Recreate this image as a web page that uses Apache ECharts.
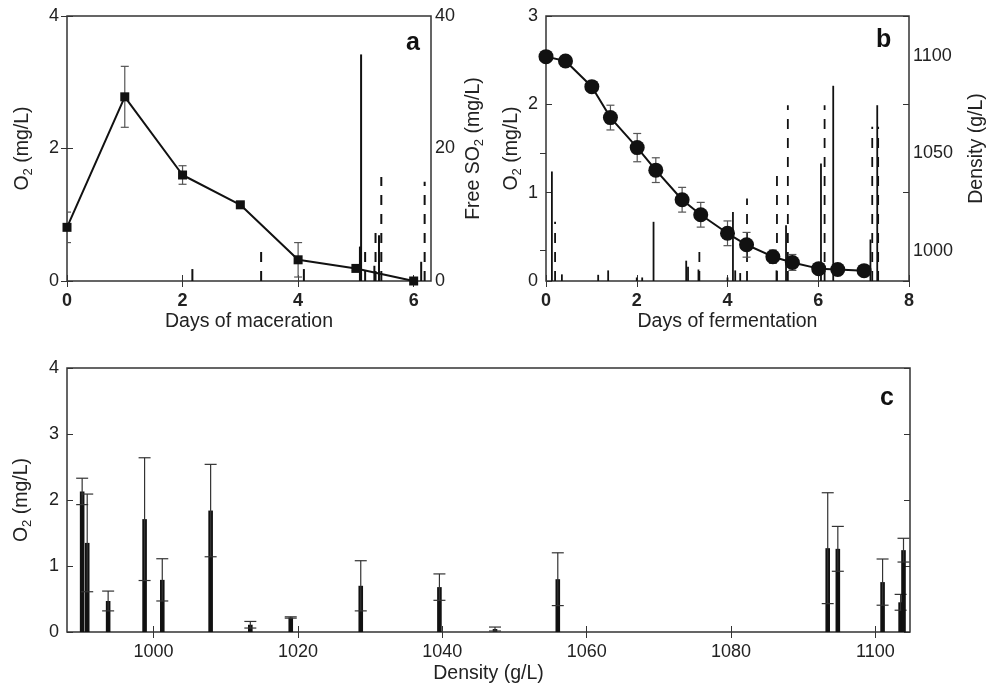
<!DOCTYPE html>
<html>
<head>
<meta charset="utf-8">
<script src="https://cdn.jsdelivr.net/npm/echarts@6.0.0/dist/echarts.min.js"></script>
<style>
    html, body { margin: 0; padding: 0; background: #fff; }
    #chart { width: 997px; height: 687px; }
</style>
</head>
<body>
<div id="chart"></div>
<script>

/* ===========================
   Data
=========================== */

// panel a: maceration
const macDays = [0, 1, 2, 3, 4, 5, 6];
const macO2 = [0.81, 2.78, 1.60, 1.15, 0.32, 0.19, 0.0];
const macErr = [0.23, 0.46, 0.14, 0.03, 0.26, 0.03, 0.0];
const macSolidDay = [2.17, 4.10, 5.07, 5.09, 5.32, 5.40, 6.13];
const macSolidSO2 = [1.8, 1.8, 5.2, 34.2, 2.3, 6.9, 2.9];
const macDashDay = [3.36, 5.16, 5.34, 5.44, 6.19];
const macDashSO2 = [5.3, 4.7, 8.6, 15.7, 15.0];

// panel b: fermentation
const fermDays = [0, 0.43, 1.01, 1.42, 2.01, 2.42, 3.0, 3.41, 4.0, 4.42, 5.0, 5.43, 6.01, 6.43, 7.01];
const fermO2 = [2.54, 2.49, 2.20, 1.85, 1.51, 1.255, 0.92, 0.75, 0.54, 0.41, 0.275, 0.21, 0.14, 0.13, 0.117];
const fermErr = [0.03, 0.04, 0.03, 0.14, 0.16, 0.14, 0.14, 0.14, 0.14, 0.14, 0.075, 0.09, 0.02, 0.02, 0.02];
const fermSolidDay = [0.13, 0.35, 1.15, 1.37, 2.0, 2.12, 2.37, 3.09, 3.13, 3.36, 4.0, 4.12, 4.17, 4.28, 5.08, 5.29, 6.06, 6.33, 7.15, 7.30];
const fermSolidO2 = [1.24, 0.075, 0.07, 0.12, 0.04, 0.04, 0.67, 0.23, 0.16, 0.13, 0.04, 0.78, 0.12, 0.09, 0.12, 0.63, 1.33, 2.21, 0.47, 1.99];
const fermDashDay = [0.2, 3.38, 4.43, 5.09, 5.33, 6.14, 7.19, 7.32];
const fermDashO2 = [0.67, 0.36, 0.935, 1.21, 1.99, 1.99, 1.745, 1.745];

// panel c: O2 vs density
const cDensity = [990.1, 990.8, 993.7, 998.75, 1001.2, 1007.9, 1013.4, 1019.0, 1028.7, 1039.6, 1047.3, 1056.0, 1093.4, 1094.8, 1101.0, 1103.5, 1103.9];
const cO2 = [2.13, 1.35, 0.47, 1.71, 0.79, 1.84, 0.11, 0.22, 0.70, 0.68, 0.045, 0.80, 1.27, 1.26, 0.756, 0.45, 1.24];
const cErr = [0.20, 0.74, 0.15, 0.93, 0.32, 0.70, 0.05, 0.01, 0.38, 0.20, 0.03, 0.40, 0.84, 0.34, 0.35, 0.12, 0.18];

// ticks
const macTicks = [0, 2, 4, 6];
const densityTicksB = [1000, 1050, 1100];
const densityTicksC = [1000, 1020, 1040, 1060, 1080, 1100];

/* ===========================
   Helpers
=========================== */

const FONT = "'Liberation Sans', Arial, Helvetica, sans-serif";
const INK = "#111";
const AXIS = "#333";
const TICK_SIZE = 18;
const NAME_SIZE = 19.5;

function zip(a, b) {
    return a.map((v, i) => [v, b[i]]);
}

function plain(v) {
    return String(v);
}

function errRenderer(capW, color) {
    return function (params, api) {
        const x = api.value(0);
        const lo = api.coord([x, api.value(1)]);
        const hi = api.coord([x, api.value(2)]);
        const style = { stroke: color, lineWidth: 1.2 };
        return {
            type: "group",
            children: [
                { type: "line", shape: { x1: lo[0], y1: lo[1], x2: hi[0], y2: hi[1] }, style: style },
                { type: "line", shape: { x1: lo[0] - capW / 2, y1: lo[1], x2: lo[0] + capW / 2, y2: lo[1] }, style: style },
                { type: "line", shape: { x1: hi[0] - capW / 2, y1: hi[1], x2: hi[0] + capW / 2, y2: hi[1] }, style: style }
            ]
        };
    };
}

function stemRenderer(dashed, width) {
    return function (params, api) {
        const p0 = api.coord([api.value(0), 0]);
        const p1 = api.coord([api.value(0), api.value(1)]);
        return {
            type: "line",
            shape: { x1: p0[0], y1: p0[1], x2: p1[0], y2: p1[1] },
            style: { stroke: INK, lineWidth: width, lineDash: dashed ? [10, 9] : null }
        };
    };
}

function barRenderer(params, api) {
    const x = api.value(0);
    const v = api.value(1);
    const e = api.value(2);
    const base = api.coord([x, 0]);
    const top = api.coord([x, v]);
    const hi = api.coord([x, v + e]);
    const lo = api.coord([x, v - e]);
    const cap = 12;
    const style = { stroke: "#333", lineWidth: 1.2 };
    return {
        type: "group",
        children: [
            { type: "rect", shape: { x: base[0] - 2.3, y: top[1], width: 4.6, height: base[1] - top[1] }, style: { fill: INK } },
            { type: "line", shape: { x1: hi[0], y1: hi[1], x2: lo[0], y2: lo[1] }, style: style },
            { type: "line", shape: { x1: hi[0] - cap / 2, y1: hi[1], x2: hi[0] + cap / 2, y2: hi[1] }, style: style },
            { type: "line", shape: { x1: lo[0] - cap / 2, y1: lo[1], x2: lo[0] + cap / 2, y2: lo[1] }, style: style }
        ]
    };
}

function subName(before, after) {
    return "{b|" + before + "}{s|2}{b|" + after + "}";
}

const nameRich = {
    b: { fontSize: NAME_SIZE, lineHeight: 24, color: "#222", fontFamily: FONT },
    s: { fontSize: 13, lineHeight: 13, color: "#222", fontFamily: FONT, verticalAlign: "bottom" }
};

function label(extra) {
    return Object.assign({ color: "#222", fontSize: TICK_SIZE, fontFamily: FONT, formatter: plain }, extra);
}

function ticks(extra) {
    return Object.assign({ show: true, inside: true, length: 6, lineStyle: { color: AXIS, width: 1 } }, extra);
}

function valueAxis(extra) {
    return Object.assign({
        type: "value",
        axisLine: { show: false },
        axisTick: ticks({}),
        axisLabel: label({}),
        splitLine: { show: false },
        nameTextStyle: { color: "#222", fontSize: NAME_SIZE, fontFamily: FONT, rich: nameRich }
    }, extra);
}

function mirrorAxis(extra) {
    return valueAxis(Object.assign({
        axisLabel: { show: false }
    }, extra));
}

/* ===========================
   Chart
=========================== */

const chart = echarts.init(document.getElementById("chart"));

chart.setOption({

    animation: false,
    backgroundColor: "#fff",

    grid: [
        { left: 67, top: 16, width: 364, height: 265, show: true, borderColor: AXIS, borderWidth: 1.5 },
        { left: 546, top: 16, width: 363, height: 265, show: true, borderColor: AXIS, borderWidth: 1.5 },
        { left: 67, top: 368, width: 843, height: 264, show: true, borderColor: AXIS, borderWidth: 1.5 }
    ],

    xAxis: [
        valueAxis({
            gridIndex: 0, min: 0, max: 6.3, position: "bottom",
            axisLabel: label({ fontWeight: "bold", margin: 11, customValues: macTicks }),
            axisTick: ticks({ customValues: macTicks }),
            name: "Days of maceration", nameLocation: "middle", nameGap: 31
        }),
        mirrorAxis({ gridIndex: 0, min: 0, max: 6.3, position: "top",
            axisTick: ticks({ customValues: macTicks }) }),
        valueAxis({
            gridIndex: 1, min: 0, max: 8, interval: 2, position: "bottom",
            axisLabel: label({ fontWeight: "bold", margin: 11 }),
            name: "Days of fermentation", nameLocation: "middle", nameGap: 31
        }),
        mirrorAxis({ gridIndex: 1, min: 0, max: 8, interval: 2, position: "top" }),
        valueAxis({
            gridIndex: 2, min: 988, max: 1104.8, position: "bottom",
            axisLabel: label({ margin: 11, customValues: densityTicksC }),
            axisTick: ticks({ customValues: densityTicksC }),
            name: "Density (g/L)", nameLocation: "middle", nameGap: 32
        }),
        mirrorAxis({ gridIndex: 2, min: 988, max: 1104.8, position: "top",
            axisTick: ticks({ customValues: densityTicksC }) })
    ],

    yAxis: [
        valueAxis({
            gridIndex: 0, min: 0, max: 4, interval: 2, position: "left",
            name: subName("O", " (mg/L)"), nameLocation: "middle", nameGap: 32, nameRotate: 90
        }),
        valueAxis({
            gridIndex: 0, min: 0, max: 40, interval: 20, position: "right",
            axisLabel: label({ margin: 4 }),
            name: subName("Free SO", " (mg/L)"), nameLocation: "middle", nameGap: 31, nameRotate: 90
        }),
        valueAxis({
            gridIndex: 1, min: 0, max: 3, interval: 1, position: "left",
            name: subName("O", " (mg/L)"), nameLocation: "middle", nameGap: 16, nameRotate: 90
        }),
        valueAxis({
            gridIndex: 1, min: 984.4, max: 1120.7, position: "right",
            axisLabel: label({ margin: 4, customValues: densityTicksB }),
            axisTick: ticks({ customValues: densityTicksB }),
            name: "Density (g/L)", nameLocation: "middle", nameGap: 58, nameRotate: 90
        }),
        mirrorAxis({ gridIndex: 1, min: 0, max: 3, interval: 1, position: "right" }),
        valueAxis({
            gridIndex: 2, min: 0, max: 4, interval: 1, position: "left",
            name: subName("O", " (mg/L)"), nameLocation: "middle", nameGap: 33, nameRotate: 90
        }),
        mirrorAxis({ gridIndex: 2, min: 0, max: 4, interval: 1, position: "right" })
    ],

    graphic: [
        { type: "text", left: 406, top: 31, style: { text: "a", fontSize: 25, fontWeight: "bold", fontFamily: FONT, fill: INK } },
        { type: "text", left: 876, top: 28, style: { text: "b", fontSize: 25, fontWeight: "bold", fontFamily: FONT, fill: INK } },
        { type: "text", left: 880, top: 386, style: { text: "c", fontSize: 25, fontWeight: "bold", fontFamily: FONT, fill: INK } }
    ],

    series: [

        /* ---- panel a ---- */
        {
            type: "custom", xAxisIndex: 0, yAxisIndex: 1, clip: true,
            renderItem: stemRenderer(false, 2),
            data: zip(macSolidDay, macSolidSO2)
        },
        {
            type: "custom", xAxisIndex: 0, yAxisIndex: 1, clip: true,
            renderItem: stemRenderer(true, 2),
            data: zip(macDashDay, macDashSO2)
        },
        {
            type: "custom", xAxisIndex: 0, yAxisIndex: 0, clip: true,
            renderItem: errRenderer(8, "#555"),
            data: macDays.map((d, i) => [d, macO2[i] - macErr[i], macO2[i] + macErr[i]])
        },
        {
            type: "line", xAxisIndex: 0, yAxisIndex: 0,
            symbol: "rect", symbolSize: 9,
            itemStyle: { color: INK },
            lineStyle: { color: INK, width: 2 },
            data: zip(macDays, macO2),
            z: 5
        },

        /* ---- panel b ---- */
        {
            type: "custom", xAxisIndex: 2, yAxisIndex: 2, clip: true,
            renderItem: stemRenderer(false, 1.8),
            data: zip(fermSolidDay, fermSolidO2)
        },
        {
            type: "custom", xAxisIndex: 2, yAxisIndex: 2, clip: true,
            renderItem: stemRenderer(true, 1.8),
            data: zip(fermDashDay, fermDashO2)
        },
        {
            type: "custom", xAxisIndex: 2, yAxisIndex: 2, clip: true,
            renderItem: errRenderer(8, "#555"),
            data: fermDays.map((d, i) => [d, fermO2[i] - fermErr[i], fermO2[i] + fermErr[i]])
        },
        {
            type: "line", xAxisIndex: 2, yAxisIndex: 2,
            symbol: "circle", symbolSize: 15,
            itemStyle: { color: INK },
            lineStyle: { color: INK, width: 2 },
            data: zip(fermDays, fermO2),
            z: 5
        },

        /* ---- panel c ---- */
        {
            type: "custom", xAxisIndex: 4, yAxisIndex: 5, clip: true,
            renderItem: barRenderer,
            data: cDensity.map((d, i) => [d, cO2[i], cErr[i]])
        }

    ]

});

</script>
</body>
</html>
